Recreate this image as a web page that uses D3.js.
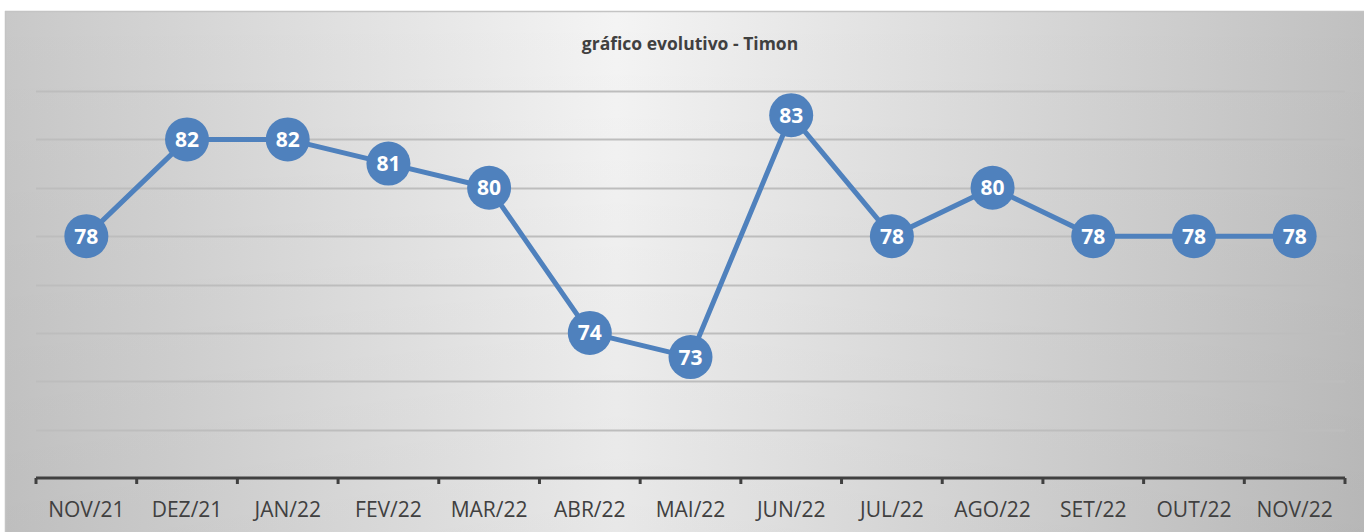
<!DOCTYPE html>
<html>
<head>
<meta charset="utf-8">
<script src="https://cdn.jsdelivr.net/npm/d3@7"></script>
<style>
  body { margin: 0; background: #fff; }
  svg { display: block; }
</style>
</head>
<body>
<svg id="chart" width="1364" height="532"></svg>
<script>
var months = ["NOV/21", "DEZ/21", "JAN/22", "FEV/22", "MAR/22", "ABR/22", "MAI/22",
  "JUN/22", "JUL/22", "AGO/22", "SET/22", "OUT/22", "NOV/22"]
var values = [78, 82, 82, 81, 80, 74, 73, 83, 78, 80, 78, 78, 78]
var gridTicks = [70, 72, 74, 76, 78, 80, 82, 84]
var title = "gráfico evolutivo - Timon"

var svg = d3.select("#chart")
var W = 1364, H = 532
var plotL = 36, plotR = 1345, plotT = 91, plotB = 478
var font = "'Open Sans', 'Liberation Sans', sans-serif"

// background panel: light in the middle, grey towards the sides
var defs = svg.append("defs")
var hgrad = defs.append("linearGradient")
  .attr("id", "bgH").attr("x1", "0%").attr("x2", "100%").attr("y1", "0%").attr("y2", "0%")
hgrad.append("stop").attr("offset", "0%").attr("stop-color", "#c8c8c8")
hgrad.append("stop").attr("offset", "45%").attr("stop-color", "#f4f4f4")
hgrad.append("stop").attr("offset", "100%").attr("stop-color", "#c0c0c0")
var vgrad = defs.append("linearGradient")
  .attr("id", "bgV").attr("x1", "0%").attr("x2", "0%").attr("y1", "0%").attr("y2", "100%")
vgrad.append("stop").attr("offset", "0%").attr("stop-color", "#000").attr("stop-opacity", 0)
vgrad.append("stop").attr("offset", "100%").attr("stop-color", "#000").attr("stop-opacity", 0.05)

svg.append("rect")
  .attr("x", 5).attr("y", 11)
  .attr("width", W - 5).attr("height", H - 11)
  .attr("fill", "url(#bgH)")
svg.append("rect")
  .attr("x", 5).attr("y", 11)
  .attr("width", W - 5).attr("height", H - 11)
  .attr("fill", "url(#bgV)")
svg.append("line")
  .attr("x1", 5).attr("x2", W).attr("y1", 11.5).attr("y2", 11.5)
  .attr("stroke", "#c4c4c4").attr("stroke-width", 1.5)
svg.append("line")
  .attr("x1", 5.5).attr("x2", 5.5).attr("y1", 11).attr("y2", H)
  .attr("stroke", "#c4c4c4").attr("stroke-width", 1.5)

var x = d3.scaleBand().domain(months).range([plotL, plotR])
var y = d3.scaleLinear().domain([68, 84]).range([plotB, plotT])

// gridlines
svg.append("g")
  .selectAll("line")
  .data(gridTicks)
  .join("line")
  .attr("x1", plotL).attr("x2", plotR)
  .attr("y1", function (d) { return Math.round(y(d)) + 0.5 })
  .attr("y2", function (d) { return Math.round(y(d)) + 0.5 })
  .attr("stroke", "#bdbdbd")
  .attr("stroke-width", 2)

// x axis
var axis = svg.append("g")
  .attr("transform", "translate(0," + plotB + ")")
axis.append("line")
  .attr("x1", plotL).attr("x2", plotR)
  .attr("stroke", "#404040").attr("stroke-width", 3)
var bounds = months.map(function (m) { return x(m) }).concat([plotR])
axis.selectAll(".tk")
  .data(bounds)
  .join("line")
  .attr("class", "tk")
  .attr("x1", function (d) { return d }).attr("x2", function (d) { return d })
  .attr("y1", 0).attr("y2", 6)
  .attr("stroke", "#404040").attr("stroke-width", 3)
axis.selectAll("text")
  .data(months)
  .join("text")
  .attr("x", function (d) { return x(d) + x.bandwidth() / 2 })
  .attr("y", 39)
  .attr("text-anchor", "middle")
  .attr("font-family", font)
  .attr("font-size", 21)
  .attr("fill", "#404040")
  .text(function (d) { return d })

// title
svg.append("text")
  .attr("x", 690).attr("y", 50)
  .attr("text-anchor", "middle")
  .attr("font-family", font)
  .attr("font-weight", "bold")
  .attr("font-size", 17.5)
  .attr("fill", "#404040")
  .text(title)

// series
var cx = function (d, i) { return x(months[i]) + x.bandwidth() / 2 }
var line = d3.line()
  .x(cx)
  .y(function (d) { return y(d) })

svg.append("path")
  .datum(values)
  .attr("d", line)
  .attr("fill", "none")
  .attr("stroke", "#4f81bd")
  .attr("stroke-width", 5)
  .attr("stroke-linejoin", "round")

var pts = svg.append("g").selectAll("g")
  .data(values)
  .join("g")
  .attr("transform", function (d, i) { return "translate(" + cx(d, i) + "," + y(d) + ")" })
pts.append("circle")
  .attr("r", 22)
  .attr("fill", "#4f81bd")
pts.append("text")
  .attr("text-anchor", "middle")
  .attr("dy", "0.36em")
  .attr("font-family", font)
  .attr("font-weight", "bold")
  .attr("font-size", 21)
  .attr("fill", "#fff")
  .text(function (d) { return d })
</script>
</body>
</html>
